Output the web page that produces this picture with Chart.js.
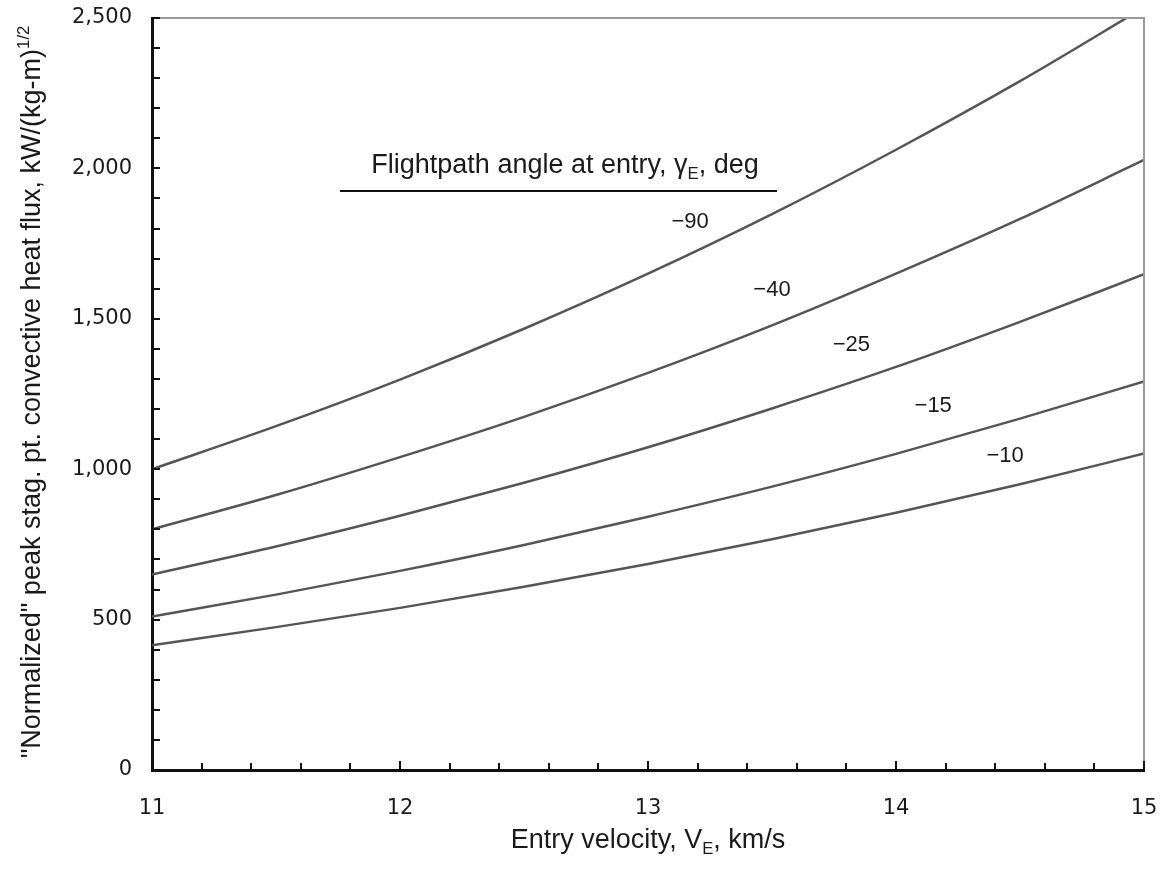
<!DOCTYPE html>
<html>
<head>
<meta charset="utf-8">
<script src="https://cdn.jsdelivr.net/npm/chart.js@4.4.1/dist/chart.umd.min.js"></script>
<style>
  html, body { margin: 0; padding: 0; background: #fff; }
  #chart { display: block; }
</style>
</head>
<body>
<canvas id="chart" width="1169" height="869"></canvas>
<script>
try {

// entry velocity, km/s
const velocity = [11, 11.5, 12, 12.5, 13, 13.5, 14, 14.5, 15];

// normalized peak stagnation point heat flux, one array per flightpath angle
const gamma90 = [1000, 1143, 1298, 1467, 1650, 1848, 2062, 2290, 2535];
const gamma40 = [800, 914, 1040, 1174, 1320, 1478, 1650, 1832, 2028];
const gamma25 = [650, 743, 845, 955, 1073, 1202, 1340, 1490, 1648];
const gamma15 = [510, 583, 662, 748, 842, 942, 1051, 1168, 1292];
const gamma10 = [415, 475, 539, 609, 685, 767, 855, 950, 1052];

const curveLabels = ['\u221290', '\u221240', '\u221225', '\u221215', '\u221210'];
const seriesList = [gamma90, gamma40, gamma25, gamma15, gamma10];

// where each curve label sits (data coords)
const labelSpots = [
  { x: 13.17, y: 1822 },
  { x: 13.50, y: 1596 },
  { x: 13.82, y: 1413 },
  { x: 14.15, y: 1210 },
  { x: 14.44, y: 1044 }
];

const LINE = '#555555';
const TEXT = '#1a1a1a';
const SANS = '"Liberation Sans", Arial, sans-serif';

function toPoints(ys) {
  return velocity.map((v, i) => ({ x: v, y: ys[i] }));
}

// draw text pieces with sub/superscripts, centered on x
function drawRich(ctx, parts, x, y, size) {
  let total = 0;
  parts.forEach(p => {
    ctx.font = (p.small ? size * 0.62 : size) + 'px ' + SANS;
    p.w = ctx.measureText(p.t).width;
    total += p.w;
  });
  let cx = x - total / 2;
  parts.forEach(p => {
    ctx.font = (p.small ? size * 0.62 : size) + 'px ' + SANS;
    ctx.fillText(p.t, cx, y + (p.dy || 0));
    cx += p.w;
  });
}

const decor = {
  id: 'decor',
  afterDraw(chart) {
    const ctx = chart.ctx;
    const a = chart.chartArea;
    const xs = chart.scales.x;
    const ys = chart.scales.y;
    ctx.save();

    // gray frame on top and right
    ctx.strokeStyle = '#9a9a9a';
    ctx.lineWidth = 2;
    ctx.beginPath();
    ctx.moveTo(a.left, a.top);
    ctx.lineTo(a.right, a.top);
    ctx.lineTo(a.right, a.bottom);
    ctx.stroke();

    // inward tick marks
    ctx.strokeStyle = '#111';
    ctx.lineWidth = 2;
    ctx.beginPath();
    for (let v = 0; v <= 2500; v += 100) {
      const py = Math.round(ys.getPixelForValue(v));
      ctx.moveTo(a.left, py);
      ctx.lineTo(a.left + 8, py);
    }
    for (let k = 0; k <= 20; k++) {
      const v = 11 + k * 0.2;
      const px = Math.round(xs.getPixelForValue(v));
      ctx.moveTo(px, a.bottom);
      ctx.lineTo(px, a.bottom - (k % 5 === 0 ? 9 : 7));
    }
    ctx.stroke();

    ctx.fillStyle = TEXT;
    ctx.textBaseline = 'alphabetic';
    ctx.textAlign = 'left';

    // x axis title
    drawRich(ctx, [
      { t: 'Entry velocity, V' },
      { t: 'E', small: true, dy: 6 },
      { t: ', km/s' }
    ], (a.left + a.right) / 2, 848, 27);

    // y axis title
    ctx.save();
    ctx.translate(40, (a.top + a.bottom) / 2 - 2);
    ctx.rotate(-Math.PI / 2);
    drawRich(ctx, [
      { t: '"Normalized" peak stag. pt. convective heat flux, kW/(kg-m)' },
      { t: '1/2', small: true, dy: -11 }
    ], 0, 0, 27);
    ctx.restore();

    // legend header
    drawRich(ctx, [
      { t: 'Flightpath angle at entry, \u03b3' },
      { t: 'E', small: true, dy: 6 },
      { t: ', deg' }
    ], 565, 173, 27);
    ctx.strokeStyle = '#111';
    ctx.lineWidth = 2;
    ctx.beginPath();
    ctx.moveTo(340, 191);
    ctx.lineTo(777, 191);
    ctx.stroke();

    // curve labels
    ctx.font = '22px ' + SANS;
    ctx.textAlign = 'center';
    ctx.textBaseline = 'middle';
    curveLabels.forEach((txt, i) => {
      const s = labelSpots[i];
      ctx.fillText(txt, xs.getPixelForValue(s.x), ys.getPixelForValue(s.y));
    });

    ctx.restore();
  }
};

new Chart(document.getElementById('chart'), {
  type: 'line',
  data: {
    datasets: seriesList.map((ys, i) => ({
      label: curveLabels[i],
      data: toPoints(ys),
      borderColor: LINE,
      borderWidth: 2.5,
      pointRadius: 0,
      fill: false,
      cubicInterpolationMode: 'monotone'
    }))
  },
  options: {
    responsive: false,
    animation: false,
    layout: { padding: { left: 0, top: 18, right: 25, bottom: 0 } },
    plugins: {
      legend: { display: false },
      tooltip: { enabled: false }
    },
    scales: {
      x: {
        type: 'linear',
        min: 11,
        max: 15,
        afterFit(scale) {
          scale.height = 99;
          scale.paddingLeft = 0;
          scale.paddingRight = 0;
        },
        grid: { display: false, drawTicks: false },
        border: { display: true, color: '#111', width: 3 },
        ticks: {
          stepSize: 1,
          padding: 26,
          color: TEXT,
          font: { family: '"DejaVu Sans", Verdana, sans-serif', size: 21 },
          callback: v => String(v)
        }
      },
      y: {
        min: 0,
        max: 2500,
        afterFit(scale) {
          scale.width = 152;
          scale.paddingTop = 0;
          scale.paddingBottom = 0;
        },
        grid: { display: false, drawTicks: false },
        border: { display: true, color: '#111', width: 3 },
        ticks: {
          stepSize: 500,
          padding: 20,
          color: TEXT,
          font: { family: '"DejaVu Sans", Verdana, sans-serif', size: 21 },
          callback: v => v.toLocaleString('en-US')
        }
      }
    }
  },
  plugins: [decor]
});

} catch (err) {
  console.error(err);
}
</script>
</body>
</html>
